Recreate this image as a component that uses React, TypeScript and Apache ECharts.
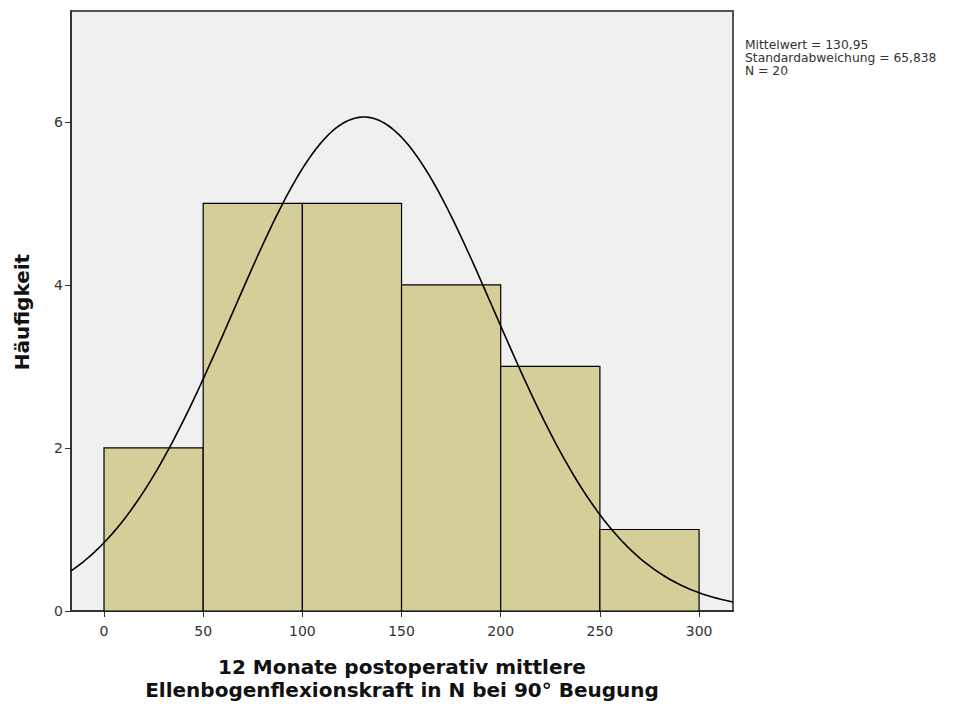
import React, { useEffect, useRef } from "react";
import * as echarts from "echarts";

const binStarts = [0, 50, 100, 150, 200, 250];
const binWidth = 50;
const counts = [2, 5, 5, 4, 3, 1];
const xTicks = [0, 50, 100, 150, 200, 250, 300];
const yTicks = [0, 2, 4, 6];
const meanValue = 130.95;
const sdValue = 65.838;
const nValue = 20;
const statsLines = ["Mittelwert = 130,95", "Standardabweichung = 65,838", "N = 20"];
const xTitle = ["12 Monate postoperativ mittlere", "Ellenbogenflexionskraft in N bei 90° Beugung"];
const yTitle = "Häufigkeit";

const X_MIN = -16.64;
const X_MAX = 317.1;
const Y_MAX = 7.36;

// Normal curve scaled to the histogram (SPSS overlay) from the stated mean / SD / N
const curve: number[][] = [];
for (let i = 0; i <= 200; i++) {
  const x = X_MIN + ((X_MAX - X_MIN) * i) / 200;
  const z = (x - meanValue) / sdValue;
  const y = (nValue * binWidth) / (sdValue * Math.sqrt(2 * Math.PI)) * Math.exp(-0.5 * z * z);
  curve.push([x, y]);
}

const barData = binStarts.map((s, i) => [s, s + binWidth, counts[i]]);

export default function App() {
  const ref = useRef<HTMLDivElement>(null);
  useEffect(() => {
    if (!ref.current) return;
    const chart = echarts.init(ref.current, null, { renderer: "svg" });
    const font = "DejaVu Sans";
    chart.setOption({
      animation: false,
      backgroundColor: "#ffffff",
      grid: {
        left: 71,
        top: 11,
        width: 662,
        height: 600,
        show: true,
        backgroundColor: "#f0f0f0",
        borderColor: "#555555",
        borderWidth: 2,
      },
      xAxis: {
        type: "value",
        min: X_MIN,
        max: X_MAX,
        axisLine: { show: true, onZero: false, lineStyle: { color: "#333", width: 2 } },
        axisTick: { show: true, customValues: xTicks, length: 6, lineStyle: { color: "#333", width: 1 } },
        axisLabel: {
          customValues: xTicks,
          color: "#333",
          fontFamily: font,
          fontSize: 14,
          margin: 13,
        },
        splitLine: { show: false },
      },
      yAxis: {
        type: "value",
        min: 0,
        max: Y_MAX,
        axisLine: { show: true, onZero: false, lineStyle: { color: "#333", width: 2 } },
        axisTick: { show: true, customValues: yTicks, length: 6, lineStyle: { color: "#333", width: 1 } },
        axisLabel: {
          customValues: yTicks,
          color: "#333",
          fontFamily: font,
          fontSize: 14,
          margin: 8,
        },
        splitLine: { show: false },
      },
      series: [
        {
          type: "custom",
          data: barData,
          encode: { x: [0, 1], y: 2 },
          renderItem: (params: any, api: any) => {
            const p0 = api.coord([api.value(0), api.value(2)]);
            const p1 = api.coord([api.value(1), 0]);
            return {
              type: "rect",
              shape: { x: p0[0], y: p0[1], width: p1[0] - p0[0], height: p1[1] - p0[1] },
              style: { fill: "#d4cf98", stroke: "#000000", lineWidth: 1.2 },
            };
          },
          z: 2,
        },
        {
          type: "line",
          data: curve,
          showSymbol: false,
          symbol: "none",
          lineStyle: { color: "#000000", width: 1.6 },
          clip: true,
          z: 3,
        },
      ],
      graphic: [
        {
          type: "text",
          left: 745,
          top: 38,
          style: {
            text: statsLines.join("\n"),
            fontFamily: font,
            fontSize: 12.3,
            lineHeight: 13,
            fill: "#333",
          },
        },
        {
          type: "text",
          x: 22,
          y: 312,
          rotation: Math.PI / 2,
          style: {
            text: yTitle,
            fontFamily: font,
            fontSize: 20,
            fontWeight: "bold",
            fill: "#111",
            align: "center",
            verticalAlign: "middle",
          },
        },
        {
          type: "text",
          x: 402,
          y: 678,
          style: {
            text: xTitle.join("\n"),
            fontFamily: font,
            fontSize: 20,
            lineHeight: 23,
            fontWeight: "bold",
            fill: "#111",
            align: "center",
            verticalAlign: "middle",
          },
        },
      ],
    });
    return () => chart.dispose();
  }, []);
  return <div ref={ref} style={{ position: "absolute", left: 0, top: 0, width: 973, height: 709 }} />;
}
